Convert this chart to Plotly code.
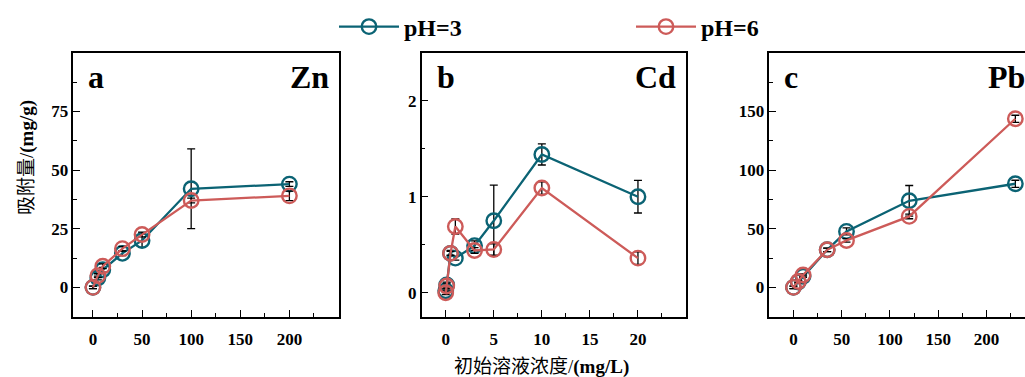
import plotly.graph_objects as go

# ---------------- data ----------------
series_names = ["pH=3", "pH=6"]

zn_x = [0, 5, 10, 30, 50, 100, 200]
zn_ph3 = [0, 4.0, 7.5, 14.5, 20.0, 42.0, 44.0]
zn_ph3_err = [0.5, 0.8, 1.0, 1.0, 3.0, 17.0, 1.0]
zn_ph6 = [0, 5.0, 9.0, 16.5, 22.5, 37.0, 39.0]
zn_ph6_err = [0.5, 0.8, 1.0, 1.0, 1.0, 1.0, 2.0]

cd_x = [0, 0.1, 0.5, 1, 3, 5, 10, 20]
cd_ph3 = [0.02, 0.08, 0.41, 0.36, 0.49, 0.75, 1.44, 1.00]
cd_ph3_err = [0.02, 0.03, 0.03, 0.02, 0.05, 0.37, 0.11, 0.17]
cd_ph6 = [0.0, 0.07, 0.41, 0.69, 0.44, 0.45, 1.09, 0.36]
cd_ph6_err = [0.02, 0.03, 0.02, 0.08, 0.03, 0.06, 0.065, 0.065]

pb_x = [0, 5, 10, 35, 55, 120, 230]
pb_ph3 = [0, 4.6, 9.5, 32.0, 47.7, 73.8, 88.3]
pb_ph3_err = [1.0, 1.0, 1.0, 1.5, 3.0, 13.0, 3.0]
pb_ph6 = [0, 5.0, 10.5, 32.0, 40.0, 60.5, 143.7]
pb_ph6_err = [1.0, 1.0, 1.0, 1.5, 1.5, 2.0, 3.0]

zn_xticks = [0, 50, 100, 150, 200]
zn_yticks = [0, 25, 50, 75]
cd_xticks = [0, 5, 10, 15, 20]
cd_yticks = [0, 1, 2]
pb_xticks = [0, 50, 100, 150, 200]
pb_yticks = [0, 50, 100, 150]

panel_letters = ["a", "b", "c"]
panel_metals = ["Zn", "Cd", "Pb"]
y_title = "吸附量/<b>(mg/g)</b>"
x_title = "初始溶液浓度/<b>(mg/L)</b>"

# ---------------- style ----------------
TEAL = "#0b6374"
RED = "#cd5b59"
FONT = "Liberation Serif, 'Times New Roman', 'Noto Sans CJK SC', serif"
CJK = "'Liberation Serif', 'Noto Sans CJK SC', sans-serif"

W, H = 1025, 377
y_dom = [(377 - 316.7) / 377, (377 - 52.7) / 377]
x_doms = [[73.3 / W, 338.5 / W], [421.7 / W, 686.0 / W], [769.3 / W, 1.0]]

panels = [
    (zn_x, zn_ph3, zn_ph3_err, zn_ph6, zn_ph6_err, [-20, 250], [-12.5, 100], zn_xticks, 25, zn_yticks, 12.5),
    (cd_x, cd_ph3, cd_ph3_err, cd_ph6, cd_ph6_err, [-2.5, 25], [-0.25, 2.5], cd_xticks, 2.5, cd_yticks, 0.5),
    (pb_x, pb_ph3, pb_ph3_err, pb_ph6, pb_ph6_err, [-25, 240], [-25, 200], pb_xticks, 25, pb_yticks, 25),
]

fig = go.Figure()

for i, (px, y3, e3, y6, e6, xr, yr, xt, xm, yt, ym) in enumerate(panels):
    xa = "x" if i == 0 else f"x{i+1}"
    ya = "y" if i == 0 else f"y{i+1}"
    for name, yv, ev, col in [(series_names[0], y3, e3, TEAL), (series_names[1], y6, e6, RED)]:
        fig.add_trace(go.Scatter(
            x=px, y=yv, xaxis=xa, yaxis=ya, name=f"<b>{name}</b>", legendgroup=name,
            showlegend=(i == 0), mode="lines+markers",
            line=dict(color=col, width=2.3),
            marker=dict(symbol="circle-open", size=14.5, color=col, line=dict(width=2.4, color=col)),
            error_y=dict(type="data", array=ev, visible=True, color="black", thickness=1.3, width=4),
            cliponaxis=False,
        ))
    axis_common = dict(showline=True, linecolor="black", linewidth=1.5, ticks="inside",
                       tickcolor="black", tickwidth=1.3, ticklen=7, showgrid=False, zeroline=False,
                       tickfont=dict(family=FONT, size=17, color="black"))
    xkey = "xaxis" if i == 0 else f"xaxis{i+1}"
    ykey = "yaxis" if i == 0 else f"yaxis{i+1}"
    fig.update_layout(**{
        xkey: dict(domain=x_doms[i], range=xr, tickmode="array", tickvals=xt,
                   ticktext=[f"<b>{v}</b>" for v in xt], anchor=ya, mirror=True,
                   ticklabelstandoff=6,
                   minor=dict(dtick=xm, tick0=0, ticks="inside", ticklen=4, tickcolor="black", tickwidth=1.3),
                   **axis_common),
        ykey: dict(domain=y_dom, range=yr, tickmode="array", tickvals=yt,
                   ticktext=[f"<b>{v}</b>" for v in yt], anchor=xa, mirror=(i < 2),
                   minor=dict(dtick=ym, tick0=0, ticks="inside", ticklen=4, tickcolor="black", tickwidth=1.3),
                   **axis_common),
    })
    x0, x1 = x_doms[i]
    fig.add_annotation(xref="paper", yref="paper", x=x0 + 13 / W, y=(377 - 77) / 377,
                       text=f"<b>{panel_letters[i]}</b>", showarrow=False, xanchor="left", yanchor="middle",
                       font=dict(family=FONT, size=32, color="black"))
    right_px = x1 * W - 8 if i < 2 else 1027
    fig.add_annotation(xref="paper", yref="paper", x=right_px / W, y=(377 - 77) / 377,
                       text=f"<b>{panel_metals[i]}</b>", showarrow=False, xanchor="right", yanchor="middle",
                       font=dict(family=FONT, size=32, color="black"))

fig.add_annotation(xref="paper", yref="paper", x=27 / W, y=(377 - 158) / 377, text=y_title,
                   textangle=-90, showarrow=False, xanchor="center", yanchor="middle",
                   font=dict(family=CJK, size=19, color="black"))
fig.add_annotation(xref="paper", yref="paper", x=541 / W, y=(377 - 367) / 377, text=x_title,
                   showarrow=False, xanchor="center", yanchor="middle",
                   font=dict(family=CJK, size=19, color="black"))

fig.update_layout(
    width=W, height=H, margin=dict(l=0, r=0, t=0, b=0),
    paper_bgcolor="white", plot_bgcolor="white",
    legend=dict(orientation="h", x=334 / W, y=1 - 27 / 377, xanchor="left", yanchor="middle",
                itemwidth=60, entrywidth=222, entrywidthmode="pixels",
                font=dict(family=FONT, size=24, color="black"), bgcolor="rgba(0,0,0,0)",
                itemclick=False),
    showlegend=True,
)

fig.write_html("out.html", config={"displayModeBar": False},
               post_script="document.body.style.margin='0';document.body.style.overflow='hidden';")
